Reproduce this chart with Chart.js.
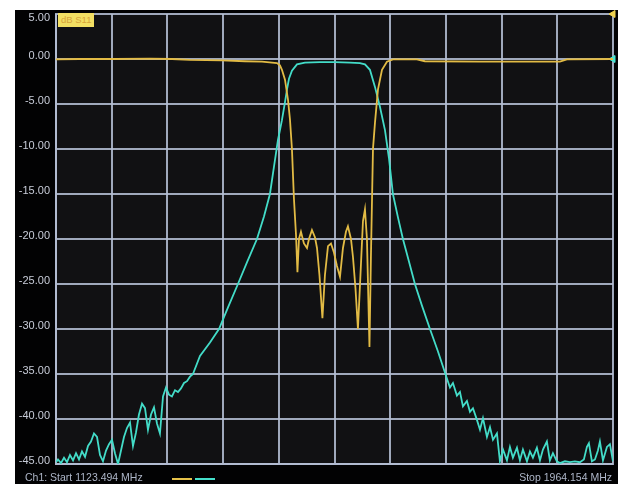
<!DOCTYPE html>
<html>
<head>
<meta charset="utf-8">
<script src="https://cdn.jsdelivr.net/npm/chart.js@4/dist/chart.umd.min.js"></script>
<style>
  html, body { margin: 0; padding: 0; background: #ffffff; width: 623px; height: 484px; overflow: hidden; }
  #frame { position: absolute; left: 15px; top: 10px; width: 603px; height: 474px; background: #020203; }
  #c { position: absolute; left: 0; top: 0; }
  .foot { position: absolute; top: 461px; font: 10.5px "Liberation Sans", Arial, sans-serif; color: #aeb6c8; white-space: nowrap; }
  #startTxt { left: 10px; }
  #stopTxt { right: 6px; }
  .swatch { position: absolute; top: 468px; height: 2px; width: 20px; }
  #trLabel { position: absolute; left: 43px; top: 3px; height: 14px; padding: 0 3px; background: #f2df63; color: #d7a43a; font: 9.5px "Liberation Sans", Arial, sans-serif; line-height: 14px; }
</style>
</head>
<body>
<div id="frame">
  <canvas id="c" width="603" height="474"></canvas>
  <div id="trLabel">dB S11</div>
  <div class="foot" id="startTxt">Ch1: Start 1123.494 MHz</div>
  <div class="swatch" style="left:157px;background:#e6c24a"></div>
  <div class="swatch" style="left:180px;background:#45e0cc"></div>
  <div class="foot" id="stopTxt">Stop 1964.154 MHz</div>
</div>
<script>
// ---- axis / sweep definition ----
const startMHz = 1123.494;
const stopMHz = 1964.154;
const yTickValues = [5, 0, -5, -10, -15, -20, -25, -30, -35, -40, -45];

// ---- S21 (cyan) trace: frequency (MHz) and level (dB) ----
const s21Freq = [
  1123.5, 1126.5, 1131.0, 1135.6, 1140.1, 1144.6, 1149.2, 1153.7, 1158.2, 1162.7,
  1167.3, 1171.8, 1176.3, 1180.8, 1185.4, 1189.9, 1194.4, 1199.0, 1203.5, 1208.0,
  1212.5, 1217.1, 1221.6, 1226.1, 1230.6, 1235.2, 1239.7, 1244.2, 1248.7, 1253.3,
  1257.8, 1262.3, 1266.9, 1271.4, 1275.9, 1280.4, 1285.0, 1289.5, 1294.0, 1298.5,
  1303.1, 1307.6, 1312.1, 1316.7, 1321.2, 1325.7, 1330.2, 1340.8, 1355.9, 1369.5,
  1383.1, 1398.1, 1411.7, 1426.8, 1437.4, 1446.4, 1454.0, 1458.5, 1464.5, 1469.1,
  1472.1, 1475.1, 1479.6, 1487.2, 1499.2, 1521.9, 1544.5, 1567.1, 1582.2, 1589.8,
  1597.3, 1604.9, 1612.4, 1620.0, 1626.0, 1632.0, 1639.6, 1647.1, 1656.2, 1665.2,
  1675.8, 1687.9, 1700.0, 1713.5, 1718.1, 1722.6, 1728.6, 1733.2, 1737.7, 1743.7,
  1748.3, 1752.8, 1758.8, 1763.4, 1767.9, 1773.9, 1778.5, 1783.0, 1789.0, 1793.5,
  1798.1, 1804.1, 1808.6, 1813.1, 1819.2, 1823.7, 1828.2, 1834.3, 1838.8, 1843.3,
  1849.3, 1853.9, 1858.4, 1864.4, 1868.9, 1873.5, 1879.5, 1884.0, 1891.6, 1899.1,
  1906.7, 1914.2, 1920.2, 1924.8, 1927.8, 1932.3, 1936.9, 1941.4, 1944.4, 1949.0,
  1955.0, 1959.5, 1964.15
];
const s21Db = [
  -44.8, -44.5, -44.9, -44.3, -44.8, -44.0, -44.6, -43.8, -44.5, -43.6,
  -44.2, -43.0, -42.5, -41.6, -42.0, -44.0, -44.7, -43.5, -42.8, -42.3,
  -43.8, -45.0, -43.5, -42.0, -41.0, -40.4, -43.0, -41.5, -39.5, -38.3,
  -38.8, -41.2, -39.5, -38.7, -40.5, -41.6, -37.5, -36.5, -37.3, -37.5,
  -36.8, -37.0, -36.6, -36.0, -35.8, -35.3, -35.0, -33.0, -31.5, -30.0,
  -27.6, -25.0, -22.6, -20.0, -17.5, -15.0, -11.2, -9.0, -6.8, -4.8,
  -3.4, -2.2, -1.3, -0.6, -0.4, -0.35, -0.35, -0.4, -0.45, -0.6,
  -1.2, -3.1, -5.3, -7.9, -11.0, -15.0, -17.6, -20.0, -22.5, -25.0,
  -27.4, -30.0, -32.5, -35.5, -36.5, -36.0, -37.4, -37.0, -38.6, -38.0,
  -39.2, -38.8, -40.1, -41.2, -39.9, -42.0, -40.9, -42.3, -41.6, -44.7,
  -43.4, -44.6, -43.1, -44.3, -43.2, -44.6, -43.4, -44.7, -43.6, -44.3,
  -43.2, -44.6, -43.4, -42.5, -44.6, -43.8, -44.7, -44.9, -44.7, -44.8,
  -44.7, -44.8, -44.5, -43.1, -42.7, -44.7, -44.5, -43.5, -42.5, -44.6,
  -43.1, -42.8, -44.7
];

// ---- S11 (yellow) trace: frequency (MHz) and level (dB) ----
const s11Freq = [
  1123.5, 1159.7, 1212.5, 1265.3, 1298.5, 1325.7, 1374.0, 1408.7, 1434.4, 1449.5,
  1457.0, 1461.5, 1464.5, 1469.1, 1473.6, 1476.6, 1479.6, 1482.6, 1485.7, 1487.9,
  1490.2, 1493.2, 1497.7, 1502.3, 1505.3, 1509.8, 1514.3, 1517.4, 1521.1, 1525.6,
  1529.4, 1534.0, 1538.5, 1543.0, 1547.5, 1552.1, 1556.6, 1561.1, 1564.1, 1568.7,
  1571.7, 1575.5, 1579.2, 1583.0, 1586.8, 1589.8, 1592.8, 1596.6, 1598.8, 1601.9,
  1604.9, 1609.4, 1615.5, 1623.0, 1632.0, 1668.2, 1680.3, 1763.4, 1884.0, 1894.6,
  1964.15
];
const s11Db = [
  -0.05, 0.0, 0.0, 0.05, 0.0, -0.1, -0.15, -0.25, -0.3, -0.4,
  -0.45, -0.7, -1.2, -2.3, -4.5, -6.7, -10.0, -15.5, -19.5, -23.7,
  -20.0, -19.2, -20.5, -21.0, -20.0, -19.0, -19.8, -21.0, -24.0, -28.8,
  -24.0, -20.8, -20.5, -21.5, -23.0, -24.2, -21.0, -19.2, -18.6, -20.0,
  -22.0, -25.5, -30.0, -24.0, -18.0, -16.7, -20.0, -32.0, -22.0, -10.0,
  -7.1, -3.4, -1.2, -0.3, -0.05, -0.05, -0.25, -0.3, -0.3, -0.05,
  0.0
];

// reference-level markers at the right edge
const refMarkers = [
  { x: stopMHz, y: 5, color: '#efd24e' },
  { x: stopMHz, y: 0, color: '#46e6d2' }
];

const toPts = (xs, ys) => xs.map((x, i) => ({ x: x, y: ys[i] }));

const plotBg = {
  id: 'plotBg',
  beforeDraw(chart) {
    const { ctx, chartArea: a } = chart;
    ctx.save();
    ctx.fillStyle = '#111113';
    ctx.fillRect(a.left, a.top, a.right - a.left, a.bottom - a.top);
    ctx.restore();
  }
};

const gridColor = 'rgba(180,190,212,0.88)';

new Chart(document.getElementById('c'), {
  type: 'line',
  data: {
    datasets: [
      {
        label: 'S11',
        data: toPts(s11Freq, s11Db),
        borderColor: '#e2bb45',
        borderWidth: 1.8,
        pointRadius: 0,
        tension: 0,
        fill: false
      },
      {
        label: 'S21',
        data: toPts(s21Freq, s21Db),
        borderColor: '#43dcc8',
        borderWidth: 1.8,
        pointRadius: 0,
        tension: 0,
        fill: false
      },
      {
        label: 'ref',
        type: 'scatter',
        data: refMarkers.map(m => ({ x: m.x, y: m.y })),
        pointStyle: 'triangle',
        rotation: -90,
        pointRadius: 4,
        pointBackgroundColor: refMarkers.map(m => m.color),
        pointBorderColor: refMarkers.map(m => m.color),
        showLine: false,
        clip: false
      }
    ]
  },
  options: {
    responsive: false,
    animation: false,
    events: [],
    layout: { autoPadding: false, padding: { left: 0, top: 4, right: 5, bottom: 20 } },
    plugins: { legend: { display: false }, tooltip: { enabled: false } },
    scales: {
      x: {
        type: 'linear',
        min: startMHz,
        max: stopMHz,
        afterBuildTicks(scale) {
          const t = [];
          for (let k = 0; k <= 10; k++) t.push({ value: startMHz + (stopMHz - startMHz) * k / 10 });
          scale.ticks = t;
        },
        afterFit(scale) { scale.height = 0; scale.paddingLeft = 0; scale.paddingRight = 0; },
        ticks: { display: false },
        grid: { color: gridColor, lineWidth: 2, drawTicks: false },
        border: { color: gridColor, width: 2 }
      },
      y: {
        type: 'linear',
        min: -45,
        max: 5,
        afterBuildTicks(scale) {
          scale.ticks = yTickValues.map(v => ({ value: v }));
        },
        afterFit(scale) { scale.width = 41; scale.paddingTop = 0; scale.paddingBottom = 0; },
        ticks: {
          color: '#c8ccd8',
          font: { family: 'Liberation Sans', size: 11 },
          padding: 6,
          labelOffset: -3,
          callback: v => (v === 5 ? ['', v.toFixed(2)] : v.toFixed(2))
        },
        grid: { color: gridColor, lineWidth: 2, drawTicks: false },
        border: { color: gridColor, width: 2 }
      }
    }
  },
  plugins: [plotBg]
});
</script>
</body>
</html>
